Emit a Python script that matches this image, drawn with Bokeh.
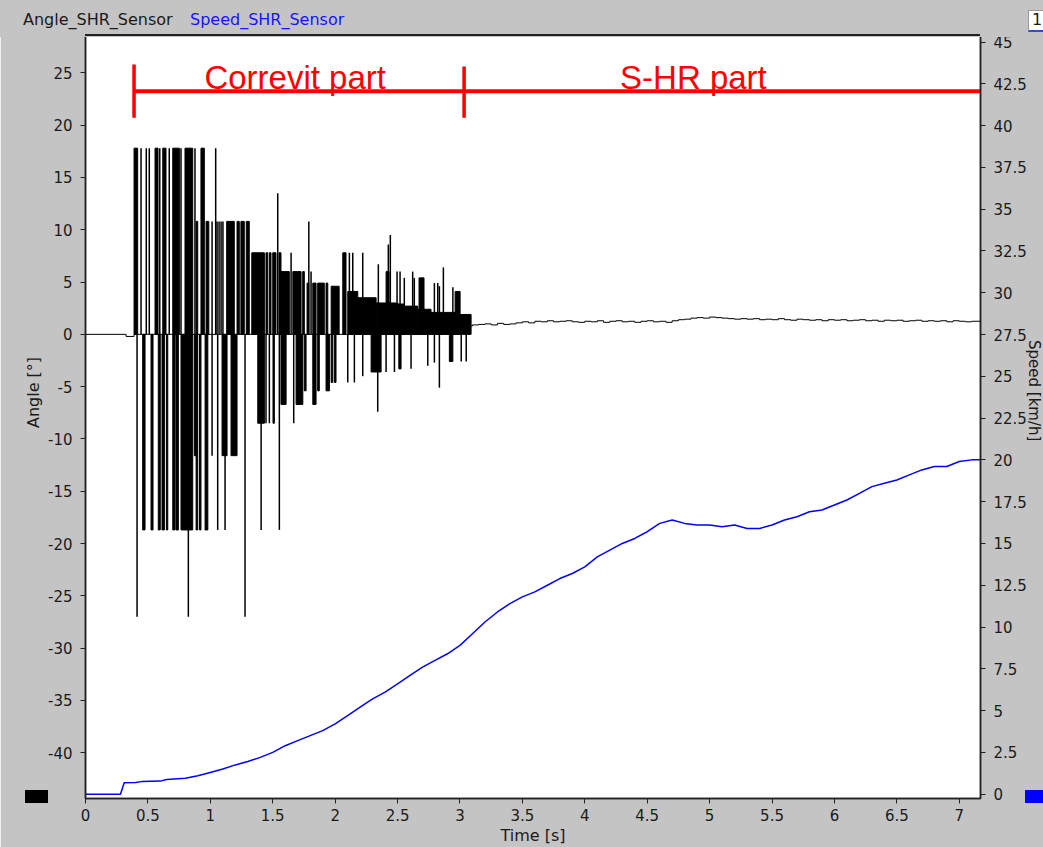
from bokeh.plotting import figure
from bokeh.layouts import column
from bokeh.models import Range1d, LinearAxis, FixedTicker, Label, Div
from bokeh.embed import file_html
from bokeh.resources import INLINE

# ---------------- data ----------------
channel_names = ["Angle_SHR_Sensor", "Speed_SHR_Sensor"]
axis_titles = ["Time [s]", "Angle [°]", "Speed [km/h]"]
time_ticks = [0, 0.5, 1, 1.5, 2, 2.5, 3, 3.5, 4, 4.5, 5, 5.5, 6, 6.5, 7]
time_tick_labels = ["0", "0.5", "1", "1.5", "2", "2.5", "3", "3.5", "4", "4.5", "5", "5.5", "6", "6.5", "7"]
angle_ticks = [-40, -35, -30, -25, -20, -15, -10, -5, 0, 5, 10, 15, 20, 25]
angle_tick_labels = ["-40", "-35", "-30", "-25", "-20", "-15", "-10", "-5", "0", "5", "10", "15", "20", "25"]
speed_ticks = [0, 2.5, 5, 7.5, 10, 12.5, 15, 17.5, 20, 22.5, 25, 27.5, 30, 32.5, 35, 37.5, 40, 42.5, 45]
speed_tick_labels = ["0", "2.5", "5", "7.5", "10", "12.5", "15", "17.5", "20", "22.5", "25", "27.5",
                     "30", "32.5", "35", "37.5", "40", "42.5", "45"]

# Speed_SHR_Sensor [km/h]
speed_t = [0.0, 0.28, 0.31, 0.4, 0.45, 0.6, 0.65, 0.8, 0.9, 1.0, 1.1, 1.2, 1.3, 1.4, 1.5, 1.6, 1.7,
           1.8, 1.9, 2.0, 2.1, 2.2, 2.3, 2.4, 2.5, 2.6, 2.7, 2.8, 2.9, 3.0, 3.1, 3.2, 3.3, 3.4,
           3.5, 3.6, 3.7, 3.8, 3.9, 4.0, 4.1, 4.2, 4.3, 4.4, 4.5, 4.6, 4.7, 4.8, 4.9, 5.0, 5.1,
           5.2, 5.3, 5.4, 5.5, 5.6, 5.7, 5.8, 5.9, 6.0, 6.1, 6.2, 6.3, 6.4, 6.5, 6.6, 6.7, 6.8,
           6.9, 7.0, 7.1, 7.17]
speed_v = [0.0, 0.0, 0.68, 0.7, 0.75, 0.78, 0.88, 0.95, 1.1, 1.3, 1.5, 1.75, 1.95, 2.2, 2.5, 2.9,
           3.2, 3.5, 3.8, 4.2, 4.7, 5.2, 5.7, 6.1, 6.6, 7.1, 7.6, 8.0, 8.4, 8.9, 9.6, 10.3, 10.9,
           11.4, 11.8, 12.1, 12.5, 12.9, 13.2, 13.6, 14.2, 14.6, 15.0, 15.3, 15.7, 16.2, 16.4,
           16.2, 16.1, 16.1, 16.0, 16.1, 15.9, 15.9, 16.1, 16.4, 16.6, 16.9, 17.0, 17.3, 17.6,
           18.0, 18.4, 18.6, 18.8, 19.1, 19.4, 19.6, 19.6, 19.9, 20.0, 20.0]

# Angle_SHR_Sensor [deg]: baseline before / inside the Correvit part
base_t = [0.0, 0.325, 0.325, 0.389, 0.389, 2.982]
base_v = [0.0, 0.0, -0.2, -0.2, 0.0, 0.0]

# wide pulses (start, end, level)
block_t0 = [0.389, 0.557, 0.619, 0.699, 0.797, 0.925, 0.886, 0.966, 1.131, 1.214, 1.245, 1.288,
            1.332, 1.446, 1.473, 1.500, 1.550, 1.566, 1.661, 1.740, 1.775, 1.821, 1.860, 1.927,
            1.968, 2.061, 2.101, 2.181, 2.328, 2.408, 2.502, 2.554, 2.662, 2.672, 2.768, 2.961,
            2.982,
            0.458, 0.525, 0.583, 0.613, 0.648, 0.699, 0.725, 0.765, 0.886, 0.913, 0.958, 0.872,
            1.094, 1.166, 1.380, 1.502, 1.566, 1.687, 1.821, 1.753, 1.860, 1.927, 1.968, 1.994,
            2.288, 2.510, 2.915]
block_t1 = [0.418, 0.581, 0.645, 0.752, 0.859, 0.952, 0.899, 0.988, 1.192, 1.232, 1.272, 1.312,
            1.433, 1.460, 1.486, 1.526, 1.566, 1.633, 1.727, 1.753, 1.789, 1.847, 1.913, 1.941,
            2.032, 2.087, 2.181, 2.328, 2.502, 2.432, 2.554, 2.662, 2.768, 2.712, 2.982, 3.001,
            3.089,
            0.477, 0.541, 0.599, 0.632, 0.659, 0.717, 0.744, 0.859, 0.899, 0.925, 0.980, 0.886,
            1.134, 1.214, 1.433, 1.513, 1.607, 1.741, 1.847, 1.767, 1.873, 1.954, 1.981, 2.007,
            2.368, 2.528, 2.943]
block_v = [17.8, 17.8, 17.8, 17.8, 17.8, 17.8, 10.8, 10.8, 10.8, 10.8, 10.8, 10.8,
           7.8, 7.8, 7.8, 7.8, 7.8, 6.0, 6.0, 6.0, 4.9, 4.9, 4.9, 4.9,
           4.6, 7.8, 4.1, 3.5, 3.0, 6.0, 2.9, 2.7, 2.4, 5.4, 2.1, 4.1,
           1.9,
           -18.7, -18.7, -18.7, -18.7, -18.7, -18.7, -18.7, -18.7, -18.7, -18.7, -18.7, -11.6,
           -11.6, -11.6, -8.5, -8.5, -6.7, -6.7, -6.7, -5.4, -5.4, -5.4, -4.6, -4.6,
           -3.6, -3.3, -2.6]

# single-sample spikes (time, level)
spike_t = [0.445, 0.487, 0.511, 0.595, 0.671, 0.765, 0.877, 1.043, 1.014, 1.054, 1.070, 1.086,
           1.101, 1.540, 1.647, 1.807, 1.789, 2.114, 2.141, 2.221, 2.346, 2.426, 2.442, 2.496,
           2.520, 2.554, 2.621, 2.634, 2.795, 2.822, 2.835, 2.867, 2.943,
           0.413, 0.824, 1.278, 1.059, 1.118, 1.407, 1.553, 1.014, 1.446, 1.473, 1.668, 2.101,
           2.154, 2.221, 2.341, 2.408, 2.475, 2.608, 2.742, 2.795, 2.835, 3.010, 3.050]
spike_v = [17.8, 17.8, 17.8, 17.8, 17.8, 17.8, 17.8, 17.8, 10.8, 10.8, 10.8, 10.8,
           10.8, 13.5, 7.8, 6.0, 10.8, 7.8, 7.8, 7.8, 6.7, 8.6, 9.5, 6.0,
           6.0, 5.4, 6.0, 5.4, 4.9, 4.9, 4.6, 6.4, 4.5,
           -27.0, -27.0, -27.0, -18.7, -18.7, -18.7, -18.7, -11.6, -8.5, -8.5, -8.5, -4.6,
           -4.6, -4.0, -7.4, -3.6, -3.6, -3.3, -3.0, -2.7, -5.1, -2.6, -2.6]

# S-HR part of the angle signal
tail_t = [3.089, 3.10, 3.15, 3.20, 3.25, 3.30, 3.35, 3.40, 3.45, 3.50, 3.55, 3.60, 3.65, 3.70,
          3.75, 3.80, 3.85, 3.90, 3.95, 4.00, 4.05, 4.10, 4.15, 4.20, 4.25, 4.30, 4.35, 4.40,
          4.45, 4.50, 4.55, 4.60, 4.65, 4.70, 4.75, 4.80, 4.85, 4.90, 4.95, 5.00, 5.05, 5.10,
          5.15, 5.20, 5.25, 5.30, 5.35, 5.40, 5.45, 5.50, 5.55, 5.60, 5.65, 5.70, 5.75, 5.80,
          5.85, 5.90, 5.95, 6.00, 6.05, 6.10, 6.15, 6.20, 6.25, 6.30, 6.35, 6.40, 6.45, 6.50,
          6.55, 6.60, 6.65, 6.70, 6.75, 6.80, 6.85, 6.90, 6.95, 7.00, 7.05, 7.10, 7.17]
tail_v = [0.8, 0.9, 0.95, 1.0, 0.9, 1.05, 0.95, 1.0, 1.1, 1.2, 1.1, 1.25, 1.2, 1.3,
          1.2, 1.25, 1.3, 1.2, 1.15, 1.25, 1.2, 1.3, 1.15, 1.25, 1.3, 1.2, 1.25, 1.15,
          1.25, 1.3, 1.2, 1.25, 1.15, 1.3, 1.4, 1.45, 1.55, 1.6, 1.55, 1.65, 1.6, 1.55,
          1.5, 1.45, 1.5, 1.45, 1.5, 1.4, 1.45, 1.4, 1.5, 1.4, 1.35, 1.45, 1.4, 1.35,
          1.4, 1.3, 1.4, 1.35, 1.4, 1.3, 1.35, 1.4, 1.3, 1.35, 1.25, 1.35, 1.3, 1.35,
          1.25, 1.3, 1.35, 1.25, 1.3, 1.25, 1.3, 1.2, 1.3, 1.25, 1.2, 1.25, 1.2]

# ---------------- style ----------------
FONT = "DejaVu Sans"
BG = "#c4c4c4"
TXT = "#1a1a1a"
BLUE = "#0000ff"
RED = "#ff0000"

# ---------------- header strip (channel names, page marker, swatches, side titles) ----------------
header_html = (
    f'<div style="position:relative;width:1043px;height:37px;background:{BG};z-index:10;'
    f'font-family:\'DejaVu Sans\';font-size:16px;line-height:18px;overflow:visible;color:{TXT};">'
    f'<span style="position:absolute;left:23px;top:11px;white-space:nowrap;">'
    f'{channel_names[0]}</span>'
    f'<span style="position:absolute;left:190px;top:11px;color:#1414ff;white-space:nowrap;">'
    f'{channel_names[1]}</span>'
    f'<span style="position:absolute;left:1028px;top:10px;width:20px;height:22px;'
    f'background:white;border:1px solid #9a9a9a;border-bottom:2px solid #3050c0;'
    f'padding-left:3px;box-sizing:border-box;">1</span>'
    f'<span style="position:absolute;left:85px;top:34px;width:895px;height:2px;'
    f'background:#222222;"></span>'
    f'<span style="position:absolute;left:25px;top:790px;width:23px;height:13px;'
    f'background:black;"></span>'
    f'<span style="position:absolute;left:1025px;top:790px;width:20px;height:13px;'
    f'background:{BLUE};"></span>'
    f'<span style="position:absolute;left:25px;top:356px;height:72px;width:19px;'
    f'writing-mode:vertical-rl;transform:rotate(180deg);white-space:nowrap;">'
    f'{axis_titles[1]}</span>'
    f'<span style="position:absolute;left:1025px;top:340px;height:104px;width:17px;'
    f'font-size:15px;line-height:17px;writing-mode:vertical-rl;white-space:nowrap;">'
    f'{axis_titles[2]}</span>'
    '</div>'
)
head = Div(text=header_html, width=1043, height=34, margin=0,
           styles={"overflow": "visible", "z-index": "10"})

# ---------------- main chart ----------------
p = figure(width=1043, height=813, output_backend="svg", toolbar_location=None,
           x_range=Range1d(0, 7.17), y_range=Range1d(-44.38, 28.67),
           min_border_left=85, min_border_right=63, min_border_top=0, min_border_bottom=46)
p.extra_y_ranges = {"speed": Range1d(-0.26, 45.45)}
p.background_fill_color = "white"
p.border_fill_color = BG
p.outline_line_color = "#222222"
p.outline_line_width = 1.5
p.xgrid.visible = False
p.ygrid.visible = False

# angle signal
p.line(base_t, base_v, color="black", line_width=1)
p.quad(left=block_t0, right=block_t1, bottom=[0] * len(block_v), top=block_v,
       fill_color="black", line_color="black", line_width=1)
p.segment(x0=spike_t, y0=[0] * len(spike_v), x1=spike_t, y1=spike_v,
          line_color="black", line_width=1.5)
p.step(tail_t, tail_v, mode="after", color="black", line_width=1)

# speed signal
p.line(speed_t, speed_v, color=BLUE, line_width=1.5, y_range_name="speed")


def style_axis(ax):
    ax.major_label_text_font = FONT
    ax.major_label_text_font_size = "15px"
    ax.major_label_text_color = TXT
    ax.axis_label_text_font = FONT
    ax.axis_label_text_font_size = "16px"
    ax.axis_label_text_font_style = "normal"
    ax.axis_label_text_color = TXT
    ax.axis_line_color = "#222222"
    ax.axis_line_width = 1.5
    ax.major_tick_line_color = "#222222"
    ax.major_tick_in = 0
    ax.major_tick_out = 5
    ax.minor_tick_line_color = None


xa = p.xaxis[0]
xa.ticker = FixedTicker(ticks=time_ticks)
xa.major_label_overrides = dict(zip(time_ticks, time_tick_labels))
xa.axis_label = axis_titles[0]
style_axis(xa)
xa.major_label_standoff = 5
xa.axis_label_standoff = 2

ya = p.yaxis[0]
ya.ticker = FixedTicker(ticks=angle_ticks)
ya.major_label_overrides = dict(zip(angle_ticks, angle_tick_labels))
style_axis(ya)
ya.major_label_standoff = 8

ra = LinearAxis(y_range_name="speed")
ra.ticker = FixedTicker(ticks=speed_ticks)
ra.major_label_overrides = dict(zip(speed_ticks, speed_tick_labels))
style_axis(ra)
ra.major_label_standoff = 8
p.add_layout(ra, "right")

# red section annotations
p.segment(x0=[0.389], y0=[23.24], x1=[7.17], y1=[23.24], line_color=RED, line_width=4)
p.segment(x0=[0.389, 3.033], y0=[25.8, 25.6], x1=[0.389, 3.033], y1=[20.7, 20.7],
          line_color=RED, line_width=3.5)
p.add_layout(Label(x=1.68, y=24.6, text="Correvit part", text_align="center",
                   text_baseline="alphabetic", text_font="Liberation Sans",
                   text_font_size="33px", text_color=RED))
p.add_layout(Label(x=4.87, y=24.6, text="S-HR part", text_align="center",
                   text_baseline="alphabetic", text_font="Liberation Sans",
                   text_font_size="33px", text_color=RED))

layout = column(head, p, spacing=0)
open("out.html", "w").write(file_html(layout, INLINE))
